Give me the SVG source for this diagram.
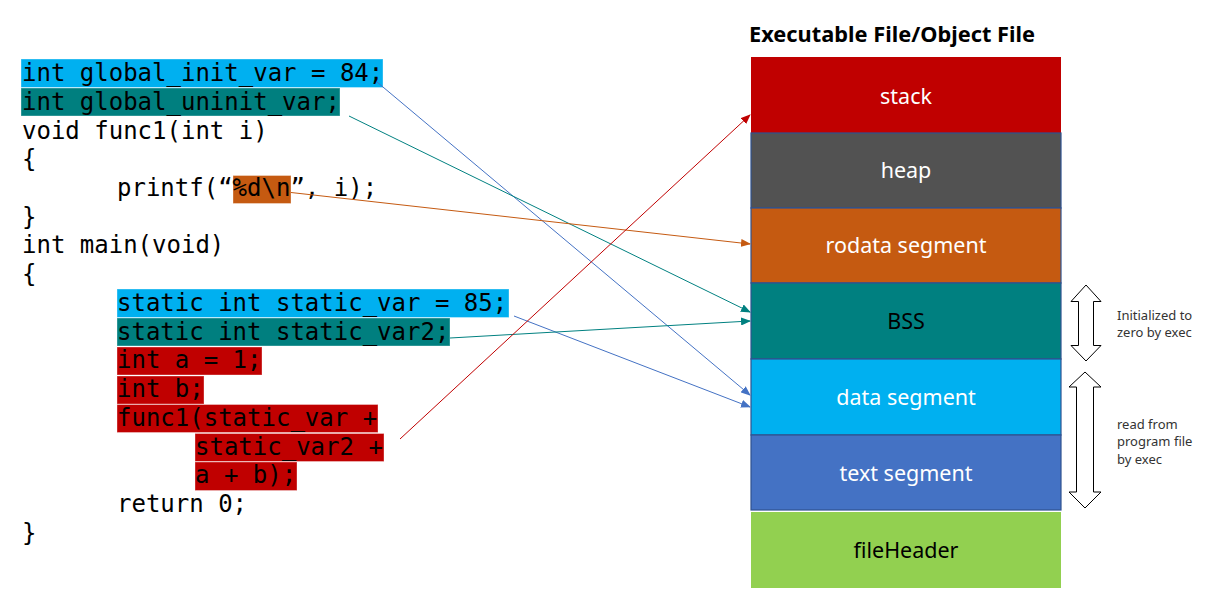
<svg xmlns="http://www.w3.org/2000/svg" width="1207" height="596" viewBox="0 0 1207 596">
<defs>
<style>
.code{font-family:"DejaVu Sans Mono","Liberation Mono",monospace;font-size:24px;fill:#000;white-space:pre}
.hl{stroke:#ffffff;stroke-opacity:0.35;stroke-width:1}
.blue{fill:#00B0F0}.teal{fill:#007F7F}.red{fill:#C00000}.orange{fill:#C55A11}
.seg{stroke:#2F528F;stroke-width:1.2}
.lbl{font-family:"Noto Sans","Open Sans",sans-serif;font-size:21.5px;text-anchor:middle;fill:#fff}
.note{font-family:"Noto Sans","Open Sans",sans-serif;font-size:13px;fill:#333}
.conn{fill:none;stroke-width:1}
.dbl{fill:#fff;stroke:#000;stroke-width:1}
</style>
<marker id="mBlue" markerWidth="10" markerHeight="8" refX="9" refY="4" orient="auto" markerUnits="userSpaceOnUse"><path d="M0,0 L10,4 L0,8 z" fill="#4472C4"/></marker>
<marker id="mTeal" markerWidth="10" markerHeight="8" refX="9" refY="4" orient="auto" markerUnits="userSpaceOnUse"><path d="M0,0 L10,4 L0,8 z" fill="#008080"/></marker>
<marker id="mOrange" markerWidth="10" markerHeight="8" refX="9" refY="4" orient="auto" markerUnits="userSpaceOnUse"><path d="M0,0 L10,4 L0,8 z" fill="#C55A11"/></marker>
<marker id="mRed" markerWidth="10" markerHeight="8" refX="9" refY="4" orient="auto" markerUnits="userSpaceOnUse"><path d="M0,0 L10,4 L0,8 z" fill="#C00000"/></marker>
</defs>
<rect width="1207" height="596" fill="#fff"/>

<g id="code">
<rect class="hl blue" x="21" y="59" width="362" height="28.5"/>
<rect class="hl teal" x="21" y="88" width="319" height="28"/>
<rect class="hl orange" x="233" y="175.5" width="58" height="28"/>
<rect class="hl blue" x="117" y="289" width="392" height="28.5"/>
<rect class="hl teal" x="117" y="318" width="333" height="28"/>
<rect class="hl red" x="117" y="347" width="145" height="28"/>
<rect class="hl red" x="117" y="376" width="87" height="28"/>
<rect class="hl red" x="117" y="404.5" width="261" height="28"/>
<rect class="hl red" x="195" y="433.5" width="189" height="28"/>
<rect class="hl red" x="195" y="462" width="102" height="28.5"/>
<text class="code" x="22" y="81">int global_init_var = 84;</text>
<text class="code" x="22" y="110">int global_uninit_var;</text>
<text class="code" x="22" y="138.5">void func1(int i)</text>
<text class="code" x="22" y="167">{</text>
<text class="code" x="117" y="196">printf(“%d\n”, i);</text>
<text class="code" x="22" y="224.5">}</text>
<text class="code" x="22" y="253">int main(void)</text>
<text class="code" x="22" y="282">{</text>
<text class="code" x="117" y="311">static int static_var = 85;</text>
<text class="code" x="117" y="339.5">static int static_var2;</text>
<text class="code" x="117" y="368">int a = 1;</text>
<text class="code" x="117" y="397">int b;</text>
<text class="code" x="117" y="426">func1(static_var +</text>
<text class="code" x="195" y="454.5">static_var2 +</text>
<text class="code" x="195" y="483">a + b);</text>
<text class="code" x="117" y="512">return 0;</text>
<text class="code" x="22" y="541">}</text>
</g>

<g id="title"><text x="749" y="42" font-family="Noto Sans, Open Sans, sans-serif" font-size="21" font-weight="bold" fill="#000" textLength="286" lengthAdjust="spacingAndGlyphs">Executable File/Object File</text></g>

<g id="stack"><rect x="751" y="57" width="310" height="76" fill="#C00000"/><text class="lbl" x="906" y="103.5">stack</text></g>
<g id="heap"><rect class="seg" x="751" y="133" width="310" height="75" fill="#525252"/><text class="lbl" x="906" y="177.5">heap</text></g>
<g id="rodata"><rect class="seg" x="751" y="208" width="310" height="75" fill="#C55A11"/><text class="lbl" x="906" y="252.5">rodata segment</text></g>
<g id="bss"><rect class="seg" x="751" y="283" width="310" height="76" fill="#008080"/><text class="lbl" x="906" y="328.5" style="fill:#000">BSS</text></g>
<g id="data"><rect class="seg" x="751" y="359" width="310" height="76" fill="#00B0F0"/><text class="lbl" x="906" y="404.5">data segment</text></g>
<g id="text"><rect class="seg" x="751" y="435" width="310" height="75" fill="#4472C4"/><text class="lbl" x="906" y="480.5">text segment</text></g>
<g id="fileHeader"><rect x="751" y="512" width="310" height="76" fill="#92D050"/><text class="lbl" x="906" y="557.5" style="fill:#000">fileHeader</text></g>

<g id="bss-note">
<polygon class="dbl" points="1086,285 1101,301.5 1093.5,301.5 1093.5,345.5 1101,345.5 1086,361 1071,345.5 1078.5,345.5 1078.5,301.5 1071,301.5"/>
<text class="note" x="1117" y="320">Initialized to</text>
<text class="note" x="1117" y="337">zero by exec</text>
</g>
<g id="data-note">
<polygon class="dbl" points="1085,372 1101,387 1093.5,387 1093.5,492 1101,492 1085,508 1069,492 1076.5,492 1076.5,387 1069,387"/>
<text class="note" x="1117" y="429">read from</text>
<text class="note" x="1117" y="446">program file</text>
<text class="note" x="1117" y="464">by exec</text>
</g>

<g id="connectors">
<line class="conn" x1="377" y1="82" x2="750" y2="395" stroke="#4472C4" marker-end="url(#mBlue)"/>
<line class="conn" x1="514" y1="316" x2="750" y2="407" stroke="#4472C4" marker-end="url(#mBlue)"/>
<line class="conn" x1="349" y1="116" x2="750" y2="312" stroke="#008080" marker-end="url(#mTeal)"/>
<line class="conn" x1="450" y1="338" x2="750" y2="321" stroke="#008080" marker-end="url(#mTeal)"/>
<line class="conn" x1="291" y1="192.5" x2="750" y2="244" stroke="#C55A11" marker-end="url(#mOrange)"/>
<line class="conn" x1="400" y1="439" x2="750" y2="115" stroke="#C00000" marker-end="url(#mRed)"/>
</g>
</svg>
